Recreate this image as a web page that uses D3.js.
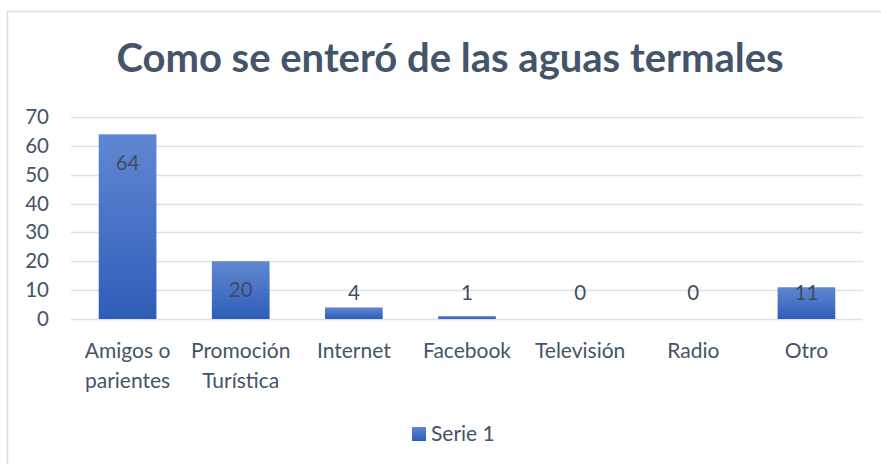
<!DOCTYPE html>
<html>
<head>
<meta charset="utf-8">
<script src="https://cdn.jsdelivr.net/npm/d3@7"></script>
<style>
  body { margin: 0; background: #fff; }
  svg { display: block; font-family: Lato, "Open Sans", sans-serif; }
</style>
</head>
<body>
<div id="chart"></div>
<script>
let w = 881;
let h = 464;

const title = "Como se enteró de las aguas termales";
const categories = ["Amigos o parientes", "Promoción Turística", "Internet", "Facebook", "Televisión", "Radio", "Otro"];
const values = [64, 20, 4, 1, 0, 0, 11];
const yTicks = [0, 10, 20, 30, 40, 50, 60, 70];
const seriesName = "Serie 1";

const textColor = "#44546a";
const margin = {top: 117, right: 18, bottom: 145, left: 71};

const svg = d3.select("#chart")
              .append("svg")
              .attr("width", w)
              .attr("height", h);

// gradient for bars
const defs = svg.append("defs");
const grad = defs.append("linearGradient")
                 .attr("id", "barGrad")
                 .attr("x1", 0).attr("y1", 0).attr("x2", 0).attr("y2", 1);
grad.append("stop").attr("offset", "0%").attr("stop-color", "#6187d2");
grad.append("stop").attr("offset", "100%").attr("stop-color", "#2e5db9");

// chart frame
svg.append("rect")
   .attr("x", 7.5)
   .attr("y", 11.5)
   .attr("width", w + 20)
   .attr("height", h + 20)
   .attr("fill", "white")
   .attr("stroke", "#d9dde3")
   .attr("stroke-width", 1.5);

const xScale = d3.scaleBand()
                 .domain(categories)
                 .range([margin.left, w - margin.right])
                 .paddingInner(0.49)
                 .paddingOuter(0.245);

const yScale = d3.scaleLinear()
                 .domain([0, 70])
                 .range([h - margin.bottom, margin.top]);

// gridlines
svg.append("g")
   .selectAll("line")
   .data(yTicks)
   .enter()
   .append("line")
   .attr("x1", margin.left)
   .attr("x2", w - margin.right)
   .attr("y1", (d) => Math.round(yScale(d)) + 0.5)
   .attr("y2", (d) => Math.round(yScale(d)) + 0.5)
   .attr("stroke", "#dde1e8")
   .attr("stroke-width", 1.5);

// y axis labels
const yAxis = d3.axisLeft(yScale)
                .tickValues(yTicks)
                .tickSize(0)
                .tickPadding(22);

svg.append("g")
   .attr("transform", "translate(" + margin.left + ",0)")
   .call(yAxis)
   .call((g) => g.select(".domain").remove())
   .selectAll("text")
   .attr("fill", textColor)
   .style("font-size", "20.5px")
   .style("font-family", "Lato, sans-serif");

// bars
svg.selectAll(".bar")
   .data(values)
   .enter()
   .append("rect")
   .attr("class", "bar")
   .attr("x", (d, i) => xScale(categories[i]))
   .attr("y", (d) => yScale(d))
   .attr("width", xScale.bandwidth())
   .attr("height", (d) => yScale(0) - yScale(d))
   .attr("fill", "url(#barGrad)");

// data labels
svg.selectAll(".lbl")
   .data(values)
   .enter()
   .append("text")
   .attr("class", "lbl")
   .attr("x", (d, i) => xScale(categories[i]) + xScale.bandwidth() / 2)
   .attr("y", (d) => Math.min(yScale(d) + 36, yScale(0) - 19))
   .attr("text-anchor", "middle")
   .attr("fill", "#3f4d62")
   .style("font-size", "20.5px")
   .text((d) => d);

// x labels, wrapped to band width
const xLabels = svg.append("g")
   .selectAll("text")
   .data(categories)
   .enter()
   .append("text")
   .attr("x", (d) => xScale(d) + xScale.bandwidth() / 2)
   .attr("y", 358)
   .attr("text-anchor", "middle")
   .attr("fill", textColor)
   .style("font-size", "21px");

xLabels.each(function(d) {
  let el = d3.select(this);
  let words = d.split(" ");
  let maxW = xScale.step() - 2;
  let lines = [];
  let line = [];
  let tmp = el.append("tspan");
  words.forEach((word) => {
    line.push(word);
    tmp.text(line.join(" "));
    if (tmp.node().getComputedTextLength() > maxW && line.length > 1) {
      line.pop();
      lines.push(line.join(" "));
      line = [word];
    }
  });
  lines.push(line.join(" "));
  tmp.remove();
  lines.forEach((t, i) => {
    el.append("tspan")
      .attr("x", el.attr("x"))
      .attr("dy", i === 0 ? 0 : 30)
      .text(t);
  });
});

// title
svg.append("text")
   .attr("x", 450)
   .attr("y", 72)
   .attr("text-anchor", "middle")
   .attr("fill", textColor)
   .style("font-size", "40px")
   .style("font-weight", "bold")
   .text(title);

// legend
svg.append("rect")
   .attr("x", 412)
   .attr("y", 427)
   .attr("width", 14)
   .attr("height", 14)
   .attr("fill", "url(#barGrad)");

svg.append("text")
   .attr("x", 431)
   .attr("y", 441)
   .attr("fill", textColor)
   .style("font-size", "21px")
   .text(seriesName);
</script>
</body>
</html>
